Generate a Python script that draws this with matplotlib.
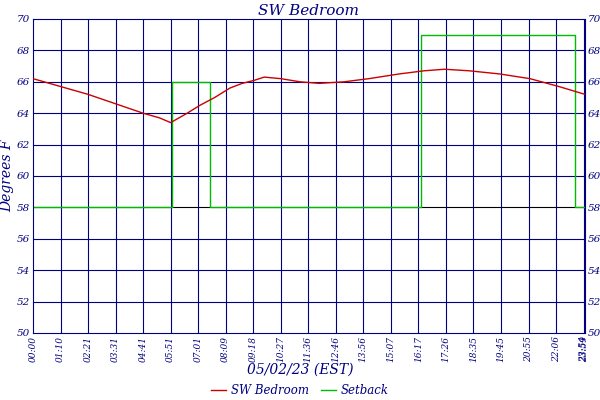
import matplotlib
matplotlib.use("Agg")
import matplotlib.pyplot as plt

tick_labels = ["00:00","01:10","02:21","03:31","04:41","05:51","07:01","08:09","09:18","10:27",
               "11:36","12:46","13:56","15:07","16:17","17:26","18:35","19:45","20:55","22:06","23:54","23:59"]
tick_pos = list(range(20)) + [20.0, 20.05]

temp_x = [0,1,2,3,4,4.6,5.0,5.1,5.6,6.06,6.6,7.15,7.6,8.05,8.4,9.0,9.7,10.4,11.3,12.2,13.3,14.2,14.95,15.85,16.95,18.05,19.1,20.05]
temp_y = [66.2,65.7,65.2,64.6,64.0,63.7,63.4,63.5,64.0,64.5,65.0,65.6,65.9,66.1,66.3,66.2,66.0,65.9,66.0,66.2,66.5,66.7,66.8,66.7,66.5,66.2,65.7,65.2]

set_x = [0,5.05,5.05,6.42,6.42,14.08,14.08,19.67,19.67,20.05]
set_y = [58,58,66,66,58,58,69,69,58,58]

navy = "#000080"
fig = plt.figure(figsize=(6,4), dpi=100)
ax = fig.add_axes([33/600, 1-333/400, 552/600, 314/400])
ax.set_xlim(0, 20.05)
ax.set_ylim(50, 70)
ax.set_yticks(range(50, 71, 2))
ax.set_xticks(tick_pos)
ax.set_xticklabels(tick_labels, rotation=90, fontsize=6.5, color=navy, style="italic", family="DejaVu Serif")
ax.tick_params(axis="both", length=0, pad=2)
ax.tick_params(axis="y", labelright=True, labelsize=7.5, labelcolor=navy)
for l in ax.get_yticklabels():
    l.set_family("DejaVu Serif"); l.set_style("italic")
for y in range(52, 70, 2):
    ax.axhline(y, color="black" if y == 58 else navy, lw=0.8, zorder=1)
for p in tick_pos[1:]:
    ax.axvline(p, color=navy, lw=0.8, zorder=1)
for s in ax.spines.values():
    s.set_color(navy)
ax.plot(temp_x, temp_y, color="#cc0000", lw=1.0, zorder=3, label="SW Bedroom")
ax.plot(set_x, set_y, color="#00bb00", lw=1.0, zorder=2, label="Setback")
ax.set_title("SW Bedroom", color=navy, style="italic", family="DejaVu Serif", fontsize=11, pad=3)
ax.set_ylabel("Degrees F", color=navy, style="italic", family="DejaVu Serif", fontsize=10, labelpad=2)
fig.text(0.5, 1-370/400, "05/02/23 (EST)", ha="center", va="center", color=navy, style="italic", family="DejaVu Serif", fontsize=10)
fig.legend(loc="center", bbox_to_anchor=(0.5, 1-391/400), ncol=2, frameon=False,
           prop={"family": "DejaVu Serif", "style": "italic", "size": 8.5}, labelcolor=navy,
           handlelength=1.3, columnspacing=1.0, handletextpad=0.4)
fig.savefig("out.png", dpi=100)
